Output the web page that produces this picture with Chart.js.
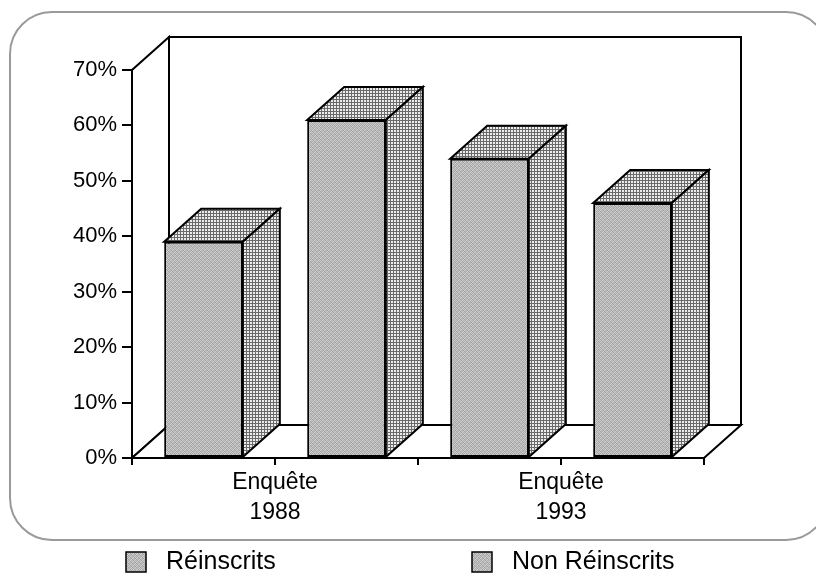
<!DOCTYPE html>
<html>
<head>
<meta charset="utf-8">
<script src="https://cdn.jsdelivr.net/npm/chart.js@4.4.1/dist/chart.umd.min.js"></script>
<style>
  html, body { margin: 0; padding: 0; background: #fff; }
</style>
</head>
<body>
<canvas id="chart" width="816" height="574"></canvas>
<script>
const categories = [["Enquête", "1988"], ["Enquête", "1993"]];
const seriesNames = ["Réinscrits", "Non Réinscrits"];
const reinscrits = [39, 54];
const nonReinscrits = [61, 46];
const yTicks = [0, 10, 20, 30, 40, 50, 60, 70];

const FONT = "'Liberation Sans', Arial, Helvetica, sans-serif";
const DX = 37;
const DY = -33;
const LEGEND_X = [126, 472];

Chart.defaults.font.family = FONT;
Chart.defaults.color = "#000";

const ctx = document.getElementById("chart").getContext("2d");

function makePattern(size, painter) {
    const c = document.createElement("canvas");
    c.width = size;
    c.height = size;
    painter(c.getContext("2d"));
    return ctx.createPattern(c, "repeat");
}

// grainy grey of the front faces
const stipple = makePattern(4, (g) => {
    const shades = [
        0xc4, 0xa4, 0xd0, 0xb0,
        0xac, 0xd4, 0xa0, 0xc8,
        0xcc, 0xb4, 0xc0, 0x9c,
        0xa8, 0xbc, 0xac, 0xd0,
    ];
    shades.forEach((v, i) => {
        g.fillStyle = `rgb(${v},${v},${v})`;
        g.fillRect(i % 4, Math.floor(i / 4), 1, 1);
    });
});

// fine cross hatch for tops and sides
const hatch = makePattern(3, (g) => {
    g.fillStyle = "#ececec";
    g.fillRect(0, 0, 3, 3);
    g.fillStyle = "#6a6a6a";
    g.fillRect(0, 0, 3, 1);
    g.fillRect(0, 0, 1, 3);
});

function roundRect(c, x, y, w, h, r) {
    c.beginPath();
    c.moveTo(x + r, y);
    c.lineTo(x + w - r, y);
    c.arcTo(x + w, y, x + w, y + r, r);
    c.lineTo(x + w, y + h - r);
    c.arcTo(x + w, y + h, x + w - r, y + h, r);
    c.lineTo(x + r, y + h);
    c.arcTo(x, y + h, x, y + h - r, r);
    c.lineTo(x, y + r);
    c.arcTo(x, y, x + r, y, r);
    c.closePath();
}

function poly(c, pts, fill) {
    c.beginPath();
    c.moveTo(pts[0][0], pts[0][1]);
    pts.slice(1).forEach((p) => c.lineTo(p[0], p[1]));
    c.closePath();
    if (fill) {
        c.fillStyle = fill;
        c.fill();
    }
    c.stroke();
}

const box3d = {
    id: "box3d",
    beforeDraw(chart) {
        const c = chart.ctx;
        c.save();
        c.fillStyle = "#fff";
        c.fillRect(0, 0, chart.width, chart.height);
        c.strokeStyle = "#9a9a9a";
        c.lineWidth = 2;
        roundRect(c, 10, 12, 818, 528, 42);
        c.stroke();
        c.restore();
    },
    beforeDatasetsDraw(chart) {
        const c = chart.ctx;
        const y = chart.scales.y;
        const x0 = chart.chartArea.left;
        const x1 = chart.chartArea.right;
        const top = y.getPixelForValue(yTicks[yTicks.length - 1]);
        const base = y.getPixelForValue(0);
        c.save();
        c.strokeStyle = "#000";
        c.lineWidth = 2;
        // left wall, back wall, floor
        poly(c, [[x0, base], [x0, top], [x0 + DX, top + DY], [x0 + DX, base + DY]], "#fff");
        poly(c, [[x0 + DX, top + DY], [x1 + DX, top + DY], [x1 + DX, base + DY], [x0 + DX, base + DY]], "#fff");
        poly(c, [[x0, base], [x1, base], [x1 + DX, base + DY], [x0 + DX, base + DY]], "#fff");
        c.restore();
    },
    afterDatasetsDraw(chart) {
        const c = chart.ctx;
        c.save();
        c.strokeStyle = "#000";
        c.lineWidth = 2;
        chart.data.datasets.forEach((ds, i) => {
            chart.getDatasetMeta(i).data.forEach((bar) => {
                const p = bar.getProps(["x", "y", "base", "width"], true);
                const l = p.x - p.width / 2;
                const r = p.x + p.width / 2;
                poly(c, [[l, p.y], [l + DX, p.y + DY], [r + DX, p.y + DY], [r, p.y]], hatch);
                poly(c, [[r, p.y], [r + DX, p.y + DY], [r + DX, p.base + DY], [r, p.base]], hatch);
            });
        });
        // tick under each category centre
        const xs = chart.scales.x;
        c.beginPath();
        categories.forEach((_, i) => {
            const px = xs.getPixelForValue(i);
            c.moveTo(px, xs.top);
            c.lineTo(px, xs.top + 7);
        });
        c.stroke();
        c.restore();
    },
    afterDraw(chart) {
        const c = chart.ctx;
        c.save();
        c.font = `25px ${FONT}`;
        c.textBaseline = "alphabetic";
        chart.data.datasets.forEach((ds, i) => {
            const lx = LEGEND_X[i];
            c.fillStyle = stipple;
            c.fillRect(lx, 552, 20, 20);
            c.strokeStyle = "#000";
            c.lineWidth = 1.5;
            c.strokeRect(lx, 552, 20, 20);
            c.fillStyle = "#000";
            c.fillText(ds.label, lx + 40, 569);
        });
        c.restore();
    },
};

const barStyle = {
    backgroundColor: stipple,
    borderColor: "#000",
    borderWidth: 2,
    borderSkipped: false,
    categoryPercentage: 1,
    barPercentage: 0.55,
};

new Chart(ctx, {
    type: "bar",
    data: {
        labels: categories,
        datasets: [
            { label: seriesNames[0], data: reinscrits, ...barStyle },
            { label: seriesNames[1], data: nonReinscrits, ...barStyle },
        ],
    },
    options: {
        responsive: false,
        animation: false,
        layout: { padding: { top: 70, right: 112, left: 0, bottom: 0 } },
        plugins: {
            legend: { display: false },
            tooltip: { enabled: false },
        },
        scales: {
            x: {
                grid: {
                    display: true,
                    drawOnChartArea: false,
                    offset: true,
                    tickLength: 7,
                    color: "#000",
                    lineWidth: 2,
                },
                border: { color: "#000", width: 2 },
                ticks: {
                    color: "#000",
                    font: { size: 23, lineHeight: 1.3 },
                    padding: 3,
                    maxRotation: 0,
                },
                afterFit: (s) => { s.height = 116; },
            },
            y: {
                min: 0,
                max: 70,
                afterBuildTicks: (s) => { s.ticks = yTicks.map((v) => ({ value: v })); },
                grid: {
                    drawOnChartArea: false,
                    tickLength: 10,
                    color: "#000",
                    lineWidth: 2,
                },
                border: { color: "#000", width: 2 },
                ticks: {
                    color: "#000",
                    font: { size: 22 },
                    padding: 5,
                    callback: (v) => v + "%",
                },
                afterFit: (s) => { s.width = 132; },
            },
        },
    },
    plugins: [box3d],
});
</script>
</body>
</html>
